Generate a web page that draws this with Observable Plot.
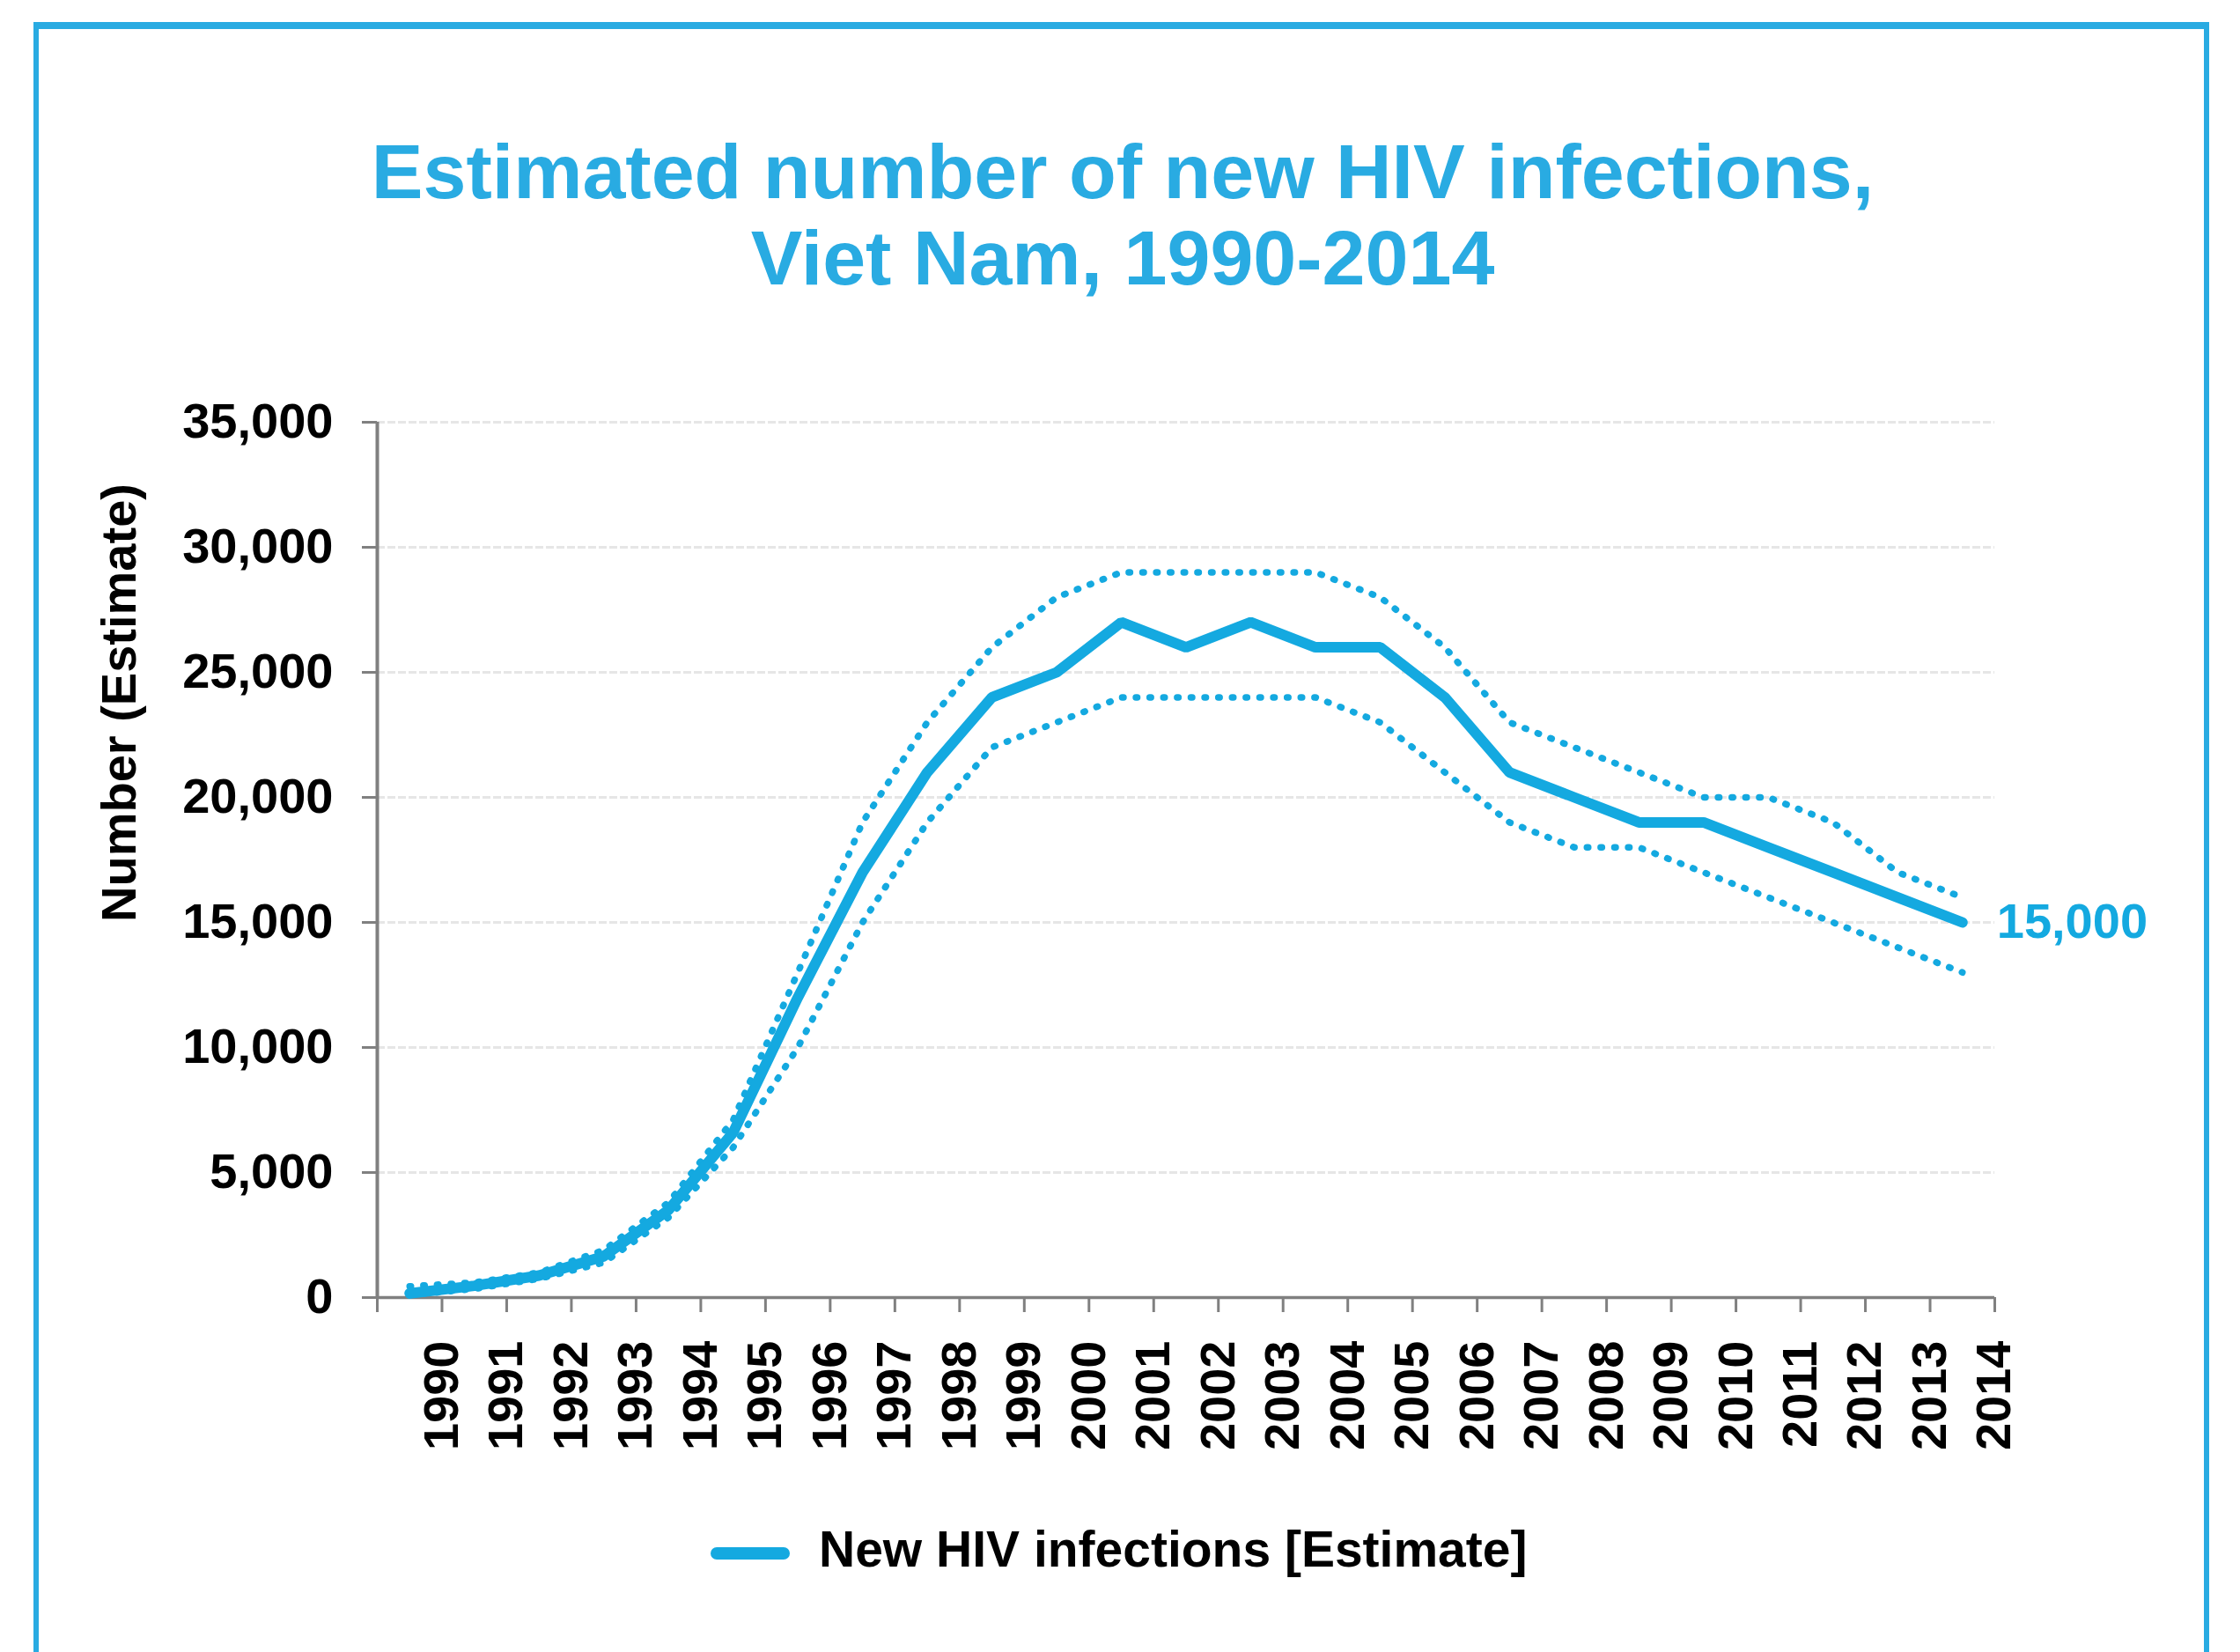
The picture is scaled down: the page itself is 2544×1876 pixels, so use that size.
<!DOCTYPE html>
<html>
<head>
<meta charset="utf-8">
<script src="https://cdn.jsdelivr.net/npm/d3@7"></script>
<script src="https://cdn.jsdelivr.net/npm/@observablehq/plot@0.6"></script>
<style>
html, body { margin: 0; padding: 0; background: #ffffff; }
body { width: 2544px; height: 1876px; overflow: hidden; position: relative; font-family: "Liberation Sans", Arial, sans-serif; }
#frame { position: absolute; left: 38px; top: 25px; width: 2459px; height: 1900px; border-left: 6px solid #29ABE2; border-right: 6px solid #29ABE2; border-top: 8px solid #29ABE2; box-sizing: content-box; }
#title { position: absolute; left: 0; top: 146px; width: 2550px; text-align: center; color: #29ABE2; font-weight: bold; font-size: 88px; line-height: 98px; }
#chart { position: absolute; left: 0; top: 400px; }
#legend-swatch { position: absolute; left: 807px; top: 1757px; width: 90px; height: 14px; border-radius: 7px; background: #14A9E0; }
#legend-text { position: absolute; left: 930px; top: 1731px; font-size: 57px; line-height: 57px; font-weight: bold; color: #000; white-space: nowrap; }
</style>
</head>
<body>
<div id="frame"></div>
<div id="title">Estimated number of new HIV infections,<br>Viet Nam, 1990-2014</div>
<div id="chart"></div>
<div id="legend-swatch"></div>
<div id="legend-text">New HIV infections [Estimate]</div>
<script>
// ---- Data ----
const years = [1990, 1991, 1992, 1993, 1994, 1995, 1996, 1997, 1998, 1999, 2000, 2001, 2002,
               2003, 2004, 2005, 2006, 2007, 2008, 2009, 2010, 2011, 2012, 2013, 2014];
const estimate = [170, 470, 880, 1650, 3500, 6600, 12000, 17000, 21000, 24000, 25000, 27000, 26000,
                  27000, 26000, 26000, 24000, 21000, 20000, 19000, 19000, 18000, 17000, 16000, 15000];
const upper = [450, 600, 1000, 1900, 3800, 7100, 13000, 19000, 23000, 26000, 28000, 29000, 29000,
               29000, 29000, 28000, 26000, 23000, 22000, 21000, 20000, 20000, 19000, 17000, 16000];
const lower = [100, 350, 750, 1400, 3200, 6000, 10000, 15000, 19000, 22000, 23000, 24000, 24000,
               24000, 24000, 23000, 21000, 19000, 18000, 18000, 17000, 16000, 15000, 14000, 13000];
const yTicks = [0, 5000, 10000, 15000, 20000, 25000, 30000, 35000];
const xLabels = ["1990", "1991", "1992", "1993", "1994", "1995", "1996", "1997", "1998", "1999", "2000", "2001", "2002",
                 "2003", "2004", "2005", "2006", "2007", "2008", "2009", "2010", "2011", "2012", "2013", "2014"];
const yTitle = "Number (Estimate)";

// ---- Build ----
const data = years.map((year, i) => ({year, estimate: estimate[i], upper: upper[i], lower: lower[i]}));
const blue = "#14A9E0";
const gray = "#808080";
const fmt = d3.format(",");
// category boundaries: ticks sit between the years
const xBounds = [years[0] - 0.5, ...years.map(y => y + 0.5)];

const chart = Plot.plot({
  width: 2544,
  height: 1300,
  marginLeft: 428,
  marginRight: 279,
  marginTop: 79,
  marginBottom: 227,
  style: {fontFamily: '"Liberation Sans", Arial, sans-serif', fontWeight: "bold", background: "transparent", overflow: "visible"},
  x: {domain: [years[0] - 0.5, years[years.length - 1] + 0.5]},
  y: {domain: [0, 35000]},
  marks: [
    Plot.gridY(yTicks.filter(d => d > 0), {stroke: "#e6e6e6", strokeOpacity: 1, strokeWidth: 3, strokeDasharray: "9,3"}),
    Plot.axisY(yTicks, {tickSize: 17, tickPadding: 33, tickFormat: fmt, stroke: gray, strokeWidth: 3, fill: "#000", fontSize: 56, fontWeight: "bold", label: null}),
    Plot.axisX(xBounds, {tickSize: 17, tickPadding: 32, tickRotate: -90, tickFormat: (d, i) => i === 0 ? "" : xLabels[i - 1], stroke: gray, strokeWidth: 3, fill: "#000", fontSize: 56, fontWeight: "bold", label: null}),
    Plot.ruleY([0], {stroke: gray, strokeWidth: 3.5}),
    Plot.ruleX([years[0] - 0.5], {stroke: gray, strokeWidth: 4}),
    Plot.line(data, {x: "year", y: "upper", stroke: blue, strokeWidth: 7.5, strokeDasharray: "1.5,14.1", strokeLinecap: "round"}),
    Plot.line(data, {x: "year", y: "lower", stroke: blue, strokeWidth: 7.5, strokeDasharray: "1.5,14.1", strokeLinecap: "round"}),
    Plot.line(data, {x: "year", y: "estimate", stroke: blue, strokeWidth: 12, strokeLinecap: "round", strokeLinejoin: "miter"}),
    Plot.text(data.slice(-1), {x: "year", y: "estimate", text: d => fmt(d.estimate), dx: 39, textAnchor: "start", fill: blue, fontSize: 56, fontWeight: "bold"})
  ]
});

document.getElementById("chart").appendChild(chart);

// y-axis title
d3.select(chart).append("text")
  .attr("transform", "translate(154,398) rotate(-90)")
  .attr("text-anchor", "middle")
  .attr("font-size", 56)
  .attr("font-weight", "bold")
  .attr("fill", "#000")
  .text(yTitle);
</script>
</body>
</html>
